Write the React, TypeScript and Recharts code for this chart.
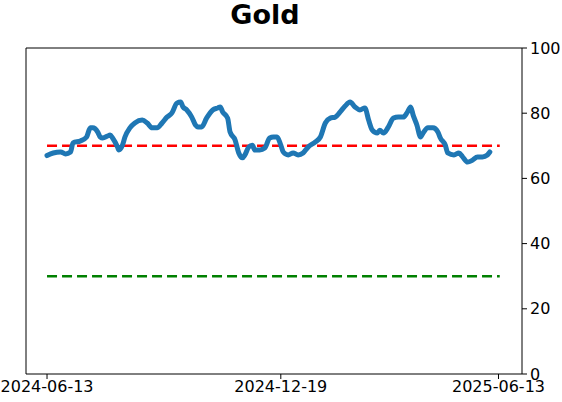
import React from 'react';
import {LineChart, Line, XAxis, YAxis, ReferenceLine} from 'recharts';

// days since 2024-06-13, and indicator value
const dayOffsets = [
  0, 5, 11, 15, 19, 21, 27, 32, 35, 37, 41, 43, 45, 49, 51, 53, 57, 58, 61, 63,
  67, 71, 77, 81, 85, 89, 93, 97, 101, 105, 108, 110, 113, 117, 120, 122, 125, 129, 134, 138,
  140, 142, 146, 148, 152, 155, 158, 160, 163, 166, 168, 172, 176, 180, 183, 186, 189, 191, 195, 199,
  203, 207, 211, 217, 221, 225, 229, 233, 237, 241, 245, 249, 253, 257, 260, 263, 267, 269, 272, 276,
  280, 284, 288, 291, 294, 296, 299, 302, 304, 308, 312, 316, 318, 322, 324, 329, 333, 336, 340, 344,
  348, 352, 356, 358,
];
const values = [
  67.0, 67.8, 68.1, 67.5, 68.1, 70.9, 71.5, 72.7, 75.5, 75.5, 74.2, 72.7, 72.4, 73.0, 73.3, 72.4, 69.6, 68.7, 70.2, 72.7,
  75.5, 77.0, 77.9, 77.0, 75.5, 75.5, 77.0, 78.8, 80.1, 83.1, 83.4, 81.9, 81.0, 78.8, 76.4, 75.8, 75.8, 78.5, 81.0, 81.6,
  81.9, 80.4, 78.5, 74.2, 71.8, 67.8, 66.3, 67.2, 69.6, 70.2, 68.7, 68.7, 69.3, 72.4, 72.7, 72.7, 70.2, 68.1, 67.2, 67.8,
  67.2, 67.8, 69.6, 71.2, 72.7, 77.0, 78.5, 78.8, 80.4, 82.2, 83.4, 81.9, 81.0, 81.6, 77.9, 74.8, 73.9, 74.8, 73.9, 75.8,
  78.5, 78.8, 78.8, 80.1, 81.9, 79.4, 76.4, 72.7, 73.9, 75.5, 75.5, 74.2, 72.4, 70.2, 67.8, 67.2, 67.8, 66.6, 65.0, 65.6,
  66.6, 66.6, 67.2, 68.1,
];
const tickDays = [0, 189, 365];
const tickLabels = ['2024-06-13', '2024-12-19', '2025-06-13'];
const yTicks = [0, 20, 40, 60, 80, 100];
const upperLevel = 70;
const lowerLevel = 30;

const xDomain = [-17, 384];
const data = dayOffsets.map((d, i) => ({day: d, value: values[i]}));

const font = {fontFamily: 'DejaVu Sans', fontSize: 16, fill: '#000'};

const App = () => {
  return (
    <div style={{position: 'absolute', left: 0, top: 0, width: 562, height: 402, background: '#fff'}}>
      <div
        style={{
          position: 'absolute',
          left: 0,
          width: 530,
          top: 1,
          lineHeight: 1,
          textAlign: 'center',
          fontFamily: 'DejaVu Sans',
          fontWeight: 'bold',
          fontSize: 27,
          color: '#000',
        }}
      >
        Gold
      </div>
      <LineChart width={562} height={402} data={data} margin={{top: 48, right: 0, left: 26, bottom: 0}}>
        <XAxis
          dataKey="day"
          type="number"
          domain={xDomain}
          ticks={tickDays}
          tickFormatter={(d: number) => tickLabels[tickDays.indexOf(d)]}
          tick={font}
          tickSize={5}
          tickMargin={2}
          height={28}
          stroke="#000"
          tickLine={{stroke: '#000'}}
          interval={0}
          allowDataOverflow
        />
        <YAxis
          orientation="right"
          domain={[0, 100]}
          ticks={yTicks}
          tick={font}
          tickSize={5}
          tickMargin={3}
          width={40}
          stroke="#000"
          interval={0}
        />
        {/* top and left spines */}
        <ReferenceLine y={100} stroke="#000" strokeWidth={1} />
        <ReferenceLine x={xDomain[0]} stroke="#000" strokeWidth={1} />
        <ReferenceLine
          segment={[{x: 0, y: upperLevel}, {x: 366, y: upperLevel}]}
          stroke="#ff0000"
          strokeWidth={2.5}
          strokeDasharray="10 5"
        />
        <ReferenceLine
          segment={[{x: 0, y: lowerLevel}, {x: 366, y: lowerLevel}]}
          stroke="#008000"
          strokeWidth={2.5}
          strokeDasharray="10 5"
        />
        <Line
          type="monotone"
          dataKey="value"
          stroke="#1f77b4"
          strokeWidth={5}
          strokeLinejoin="round"
          strokeLinecap="round"
          dot={false}
          isAnimationActive={false}
        />
      </LineChart>
    </div>
  );
};

export default App;
